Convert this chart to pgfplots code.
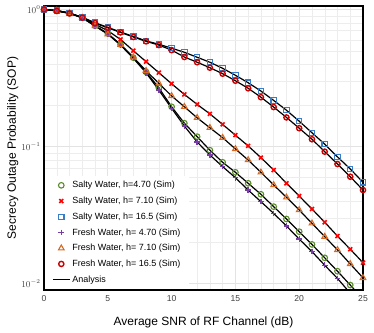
\documentclass[border=0pt]{standalone}
\usepackage{pgfplots}
\pgfplotsset{compat=1.18}
\usepackage{pgfplotstable}
\usepackage{fontspec}
\setmainfont{Liberation Sans}

\definecolor{cgreen}{RGB}{90,140,40}
\definecolor{cred}{RGB}{255,0,0}
\definecolor{cblue}{RGB}{55,125,200}
\definecolor{cpurple}{RGB}{120,60,165}
\definecolor{corange}{RGB}{215,105,35}
\definecolor{cdred}{RGB}{205,0,0}

% s = average SNR (dB); columns: salty 4.70, 7.10, 16.5; fresh 4.70, 7.10, 16.5
\pgfplotstableread{
s  sa47    sa71    sa165   fr47    fr71    fr165
0  1.000   1.000   1.000   1.000   1.000   1.000
1  0.980   0.980   0.980   0.980   0.980   0.975
2  0.940   0.940   0.940   0.940   0.940   0.935
3  0.870   0.875   0.877   0.870   0.870   0.872
4  0.760   0.780   0.800   0.760   0.758   0.795
5  0.668   0.700   0.740   0.663   0.660   0.735
6  0.555   0.604   0.685   0.550   0.553   0.680
7  0.445   0.500   0.635   0.440   0.448   0.630
8  0.350   0.416   0.590   0.345   0.357   0.585
9  0.268   0.346   0.557   0.258   0.289   0.550
10 0.195   0.287   0.522   0.190   0.234   0.505
11 0.148   0.240   0.487   0.141   0.195   0.450
12 0.118   0.203   0.448   0.108   0.162   0.412
13 0.094   0.173   0.412   0.0867  0.137   0.376
14 0.0767  0.145   0.372   0.0713  0.116   0.340
15 0.0648  0.121   0.331   0.0592  0.096   0.302
16 0.0539  0.101   0.292   0.0481  0.0797  0.266
17 0.0448  0.0829  0.254   0.0396  0.0648  0.229
18 0.0364  0.0674  0.217   0.0325  0.0524  0.194
19 0.0296  0.0539  0.184   0.0263  0.0426  0.163
20 0.0239  0.0435  0.153   0.0211  0.0344  0.136
21 0.0193  0.0350  0.126   0.0171  0.0275  0.113
22 0.0154  0.0280  0.104   0.0136  0.0220  0.0917
23 0.0123  0.0222  0.084   0.0109  0.0176  0.0745
24 0.00975 0.0178  0.0686  0.0085  0.0139  0.0602
25 0.0077  0.0142  0.0548  0.0068  0.0110  0.0481
}\sop

\begin{document}
\begin{tikzpicture}
\begin{axis}[
  name=ax,
  scale only axis,
  width=319pt,height=284pt,
  ymode=log,
  xmin=0,xmax=25,ymin=0.00897,ymax=1.06,
  xtick={0,5,10,15,20,25},
  minor x tick num=4,
  ytick={0.01,0.1,1},
  grid=both,
  major grid style={line width=0.7pt,black!11},
  minor grid style={line width=0.4pt,black!7},
  major tick length=0pt,minor tick length=0pt,
  axis line style={line width=1.2pt},
  tick label style={font=\fontsize{8.6}{10}\selectfont,black!75},
  xticklabel style={/pgf/number format/assume math mode=true,yshift=-2pt},
  label style={font=\fontsize{12}{14}\selectfont},
  xlabel={Average SNR of RF Channel (dB)},
  ylabel={Secrecy Outage Probability (SOP)},
  xlabel style={yshift=-8pt},
  ylabel style={yshift=-4pt},
  legend style={font=\fontsize{9}{10.5}\selectfont,draw=none,fill=white,
    at={(rel axis cs:0.003,0.004)},anchor=south west,
    row sep=3.7pt,inner xsep=7pt,inner ysep=3pt},
  legend cell align=left,
]
  % analysis curves
  \addplot[black,line width=1.2pt,forget plot] table[x=s,y=sa47]{\sop};
  \addplot[black,line width=1.2pt,forget plot] table[x=s,y=sa71]{\sop};
  \addplot[black,line width=1.2pt,forget plot] table[x=s,y=sa165]{\sop};
  \addplot[black,line width=1.2pt,forget plot] table[x=s,y=fr47]{\sop};
  \addplot[black,line width=1.2pt,forget plot] table[x=s,y=fr71]{\sop};
  \addplot[black,line width=1.2pt,forget plot] table[x=s,y=fr165]{\sop};
  % simulation points
  \addplot[only marks,mark=o,mark size=2.8pt,cgreen,line width=1.1pt] table[x=s,y=sa47]{\sop};
  \addlegendentry{Salty Water, h=4.70 (Sim)}
  \addplot[only marks,mark=x,mark size=2.8pt,cred,line width=1.6pt] table[x=s,y=sa71]{\sop};
  \addlegendentry{Salty Water, h= 7.10 (Sim)}
  \addplot[only marks,mark=square,mark size=2.7pt,cblue,line width=1.1pt] table[x=s,y=sa165]{\sop};
  \addlegendentry{Salty Water, h= 16.5 (Sim)}
  \addplot[only marks,mark=+,mark size=2.8pt,cpurple,line width=1.4pt] table[x=s,y=fr47]{\sop};
  \addlegendentry{Fresh Water, h= 4.70 (Sim)}
  \addplot[only marks,mark=triangle,mark size=3.2pt,corange,line width=1.1pt] table[x=s,y=fr71]{\sop};
  \addlegendentry{Fresh Water, h= 7.10 (Sim)}
  \addplot[only marks,mark=o,mark size=2.6pt,cdred,line width=1.4pt] table[x=s,y=fr165]{\sop};
  \addlegendentry{Fresh Water, h= 16.5 (Sim)}
  \addlegendimage{black,line width=1.2pt}
  \addlegendentry{Analysis}
\end{axis}
\pgfresetboundingbox
\path[use as bounding box] ([xshift=-44pt,yshift=-42pt]ax.south west) rectangle ([xshift=11pt,yshift=6pt]ax.north east);
\end{tikzpicture}
\end{document}
